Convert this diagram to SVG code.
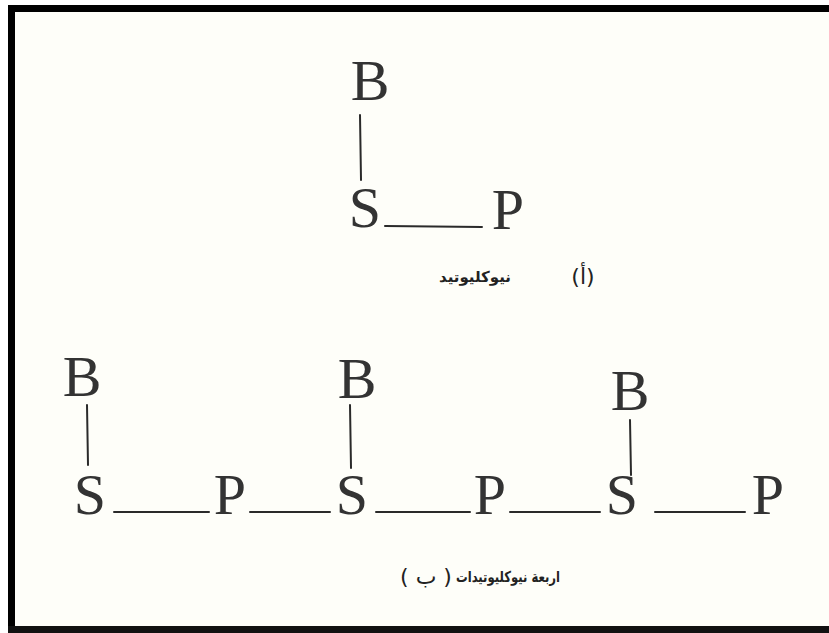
<svg xmlns="http://www.w3.org/2000/svg" width="829" height="633" viewBox="0 0 829 633">
  <style>
    .sym { font-family: "Liberation Serif", "DejaVu Serif", serif; font-size: 58px; fill: #333; text-anchor: middle; }
    .ar { font-family: "DejaVu Sans", sans-serif; font-size: 15px; font-weight: bold; fill: #222; }
    .paren { font-family: "DejaVu Sans", sans-serif; font-size: 22px; fill: #222; }
    .bond { stroke: #2a2a2a; stroke-width: 2; fill: none; stroke-linecap: round; }
  </style>

  <!-- paper and frame -->
  <rect x="0" y="0" width="829" height="633" fill="#ffffff"/>
  <rect x="15" y="12" width="814" height="614" fill="#fefef9"/>
  <rect x="8" y="5" width="821" height="7" fill="#000"/>
  <rect x="8" y="5" width="7" height="628" fill="#000"/>
  <rect x="8" y="626" width="821" height="7" fill="#111"/>

  <!-- bonds -->
  <g id="connectors">
    <!-- single nucleotide -->
    <line class="bond" x1="360" y1="115" x2="361" y2="180"/>
    <line class="bond" x1="385" y1="226" x2="482" y2="227"/>
    <!-- chain -->
    <line class="bond" x1="87" y1="405" x2="88" y2="465"/>
    <line class="bond" x1="114" y1="512" x2="209" y2="512"/>
    <line class="bond" x1="250" y1="512" x2="330" y2="512"/>
    <line class="bond" x1="350" y1="405" x2="351" y2="468"/>
    <line class="bond" x1="376" y1="512" x2="470" y2="512"/>
    <line class="bond" x1="510" y1="512" x2="600" y2="512"/>
    <line class="bond" x1="630" y1="420" x2="631" y2="475"/>
    <line class="bond" x1="655" y1="512" x2="745" y2="512"/>
  </g>

  <!-- single nucleotide -->
  <g id="top-B"><text class="sym" x="370" y="100">B</text></g>
  <g id="top-S"><text class="sym" x="365" y="227">S</text></g>
  <g id="top-P"><text class="sym" x="508" y="229">P</text></g>
  <g id="label-a">
    <text class="ar" x="475" y="282" text-anchor="middle">نيوكليوتيد</text>
    <text class="paren" x="583" y="284" text-anchor="middle">(أ)</text>
  </g>

  <!-- four-nucleotide chain -->
  <g id="B1"><text class="sym" x="82" y="396">B</text></g>
  <g id="S1"><text class="sym" x="90" y="514">S</text></g>
  <g id="P1"><text class="sym" x="230" y="514">P</text></g>
  <g id="B2"><text class="sym" x="357" y="398">B</text></g>
  <g id="S2"><text class="sym" x="352" y="514">S</text></g>
  <g id="P2"><text class="sym" x="490" y="514">P</text></g>
  <g id="B3"><text class="sym" x="630" y="410">B</text></g>
  <g id="S3"><text class="sym" x="622" y="514">S</text></g>
  <g id="P3"><text class="sym" x="768" y="514">P</text></g>
  <g id="label-b">
    <text class="ar" x="508" y="582" text-anchor="middle" textLength="104" lengthAdjust="spacingAndGlyphs">اربعة نيوكليوتيدات</text>
    <text class="paren" x="426" y="584" text-anchor="middle">( ب )</text>
  </g>
</svg>
